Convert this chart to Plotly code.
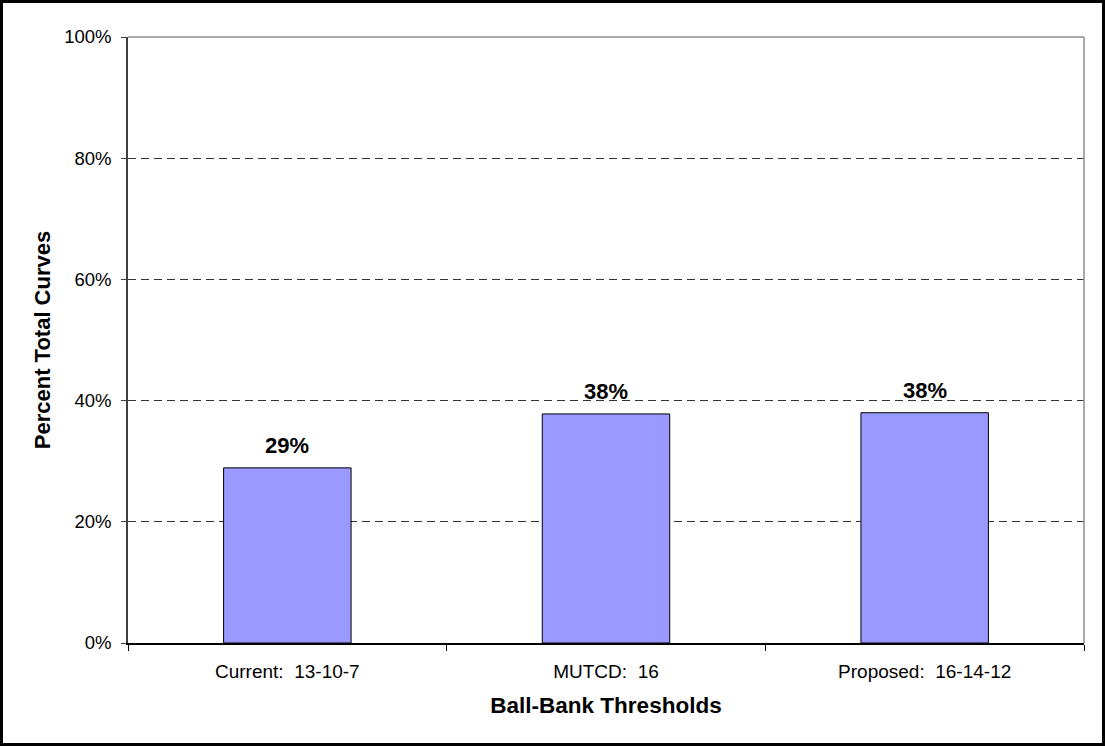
import plotly.graph_objects as go

# Share of curves flagged under each ball-bank threshold set
thresholds = ["Current:  13-10-7", "MUTCD:  16", "Proposed:  16-14-12"]
percent_curves = [28.9, 37.8, 38.0]
y_ticks = [0, 20, 40, 60, 80, 100]
y_tick_labels = [f"{v}%" for v in y_ticks]

W, H = 1105, 746
M = dict(l=128, r=21, t=37, b=103)
FONT = "Liberation Sans, Arial, sans-serif"

fig = go.Figure()
fig.add_trace(go.Bar(
    x=thresholds,
    y=percent_curves,
    width=0.4,
    marker=dict(color="#9999FF", line=dict(color="#000000", width=1)),
    hoverinfo="x+y",
))

# value labels above each bar, formatted from the bar heights
for cat, val in zip(thresholds, percent_curves):
    fig.add_annotation(
        x=cat, y=val, text=f"<b>{val:.0f}%</b>", showarrow=False,
        xanchor="center", yanchor="bottom", yshift=8,
        font=dict(family=FONT, size=22, color="#000000"),
    )

# plot-area frame: light grey on top and right
pw = W - M["l"] - M["r"]
ph = H - M["t"] - M["b"]
for x0, y0, x1, y1 in [(0, 1, 1, 1), (1, 0, 1, 1)]:
    fig.add_shape(type="line", xref="paper", yref="paper",
                  x0=x0, y0=y0, x1=x1, y1=y1,
                  line=dict(color="#8C8C8C", width=1.5), layer="above")

# black border around the whole chart
b = 1.5
fig.add_shape(type="rect", xref="paper", yref="paper",
              x0=(b - M["l"]) / pw, x1=(W - b - M["l"]) / pw,
              y0=-(H - b - M["t"] - ph) / ph, y1=(ph + M["t"] - b) / ph,
              line=dict(color="#000000", width=3), layer="above")

fig.update_layout(
    width=W, height=H,
    margin=M,
    paper_bgcolor="#FFFFFF",
    plot_bgcolor="#FFFFFF",
    showlegend=False,
    bargap=0.6,
    font=dict(family=FONT, color="#000000"),
    xaxis=dict(
        type="category",
        tickson="boundaries",
        ticks="outside", ticklen=6, tickcolor="#000000",
        ticklabelstandoff=10,
        showline=True, linecolor="#000000", linewidth=1.5,
        showgrid=False,
        tickfont=dict(family=FONT, size=19, color="#000000"),
        title=dict(text="<b>Ball-Bank Thresholds</b>", standoff=17,
                   font=dict(family=FONT, size=22.5, color="#000000")),
    ),
    yaxis=dict(
        range=[0, 100],
        tickmode="array",
        tickvals=y_ticks,
        ticktext=y_tick_labels,
        ticks="outside", ticklen=5, tickcolor="#404040",
        ticklabelstandoff=6,
        showline=True, linecolor="#404040", linewidth=1.5,
        zeroline=False,
        showgrid=True, gridcolor="#333333", gridwidth=1, griddash="8px,5px",
        tickfont=dict(family=FONT, size=18.5, color="#000000"),
        title=dict(text="<b>Percent Total Curves</b>", standoff=8,
                   font=dict(family=FONT, size=22, color="#000000")),
    ),
)

fig.write_html("out.html")
